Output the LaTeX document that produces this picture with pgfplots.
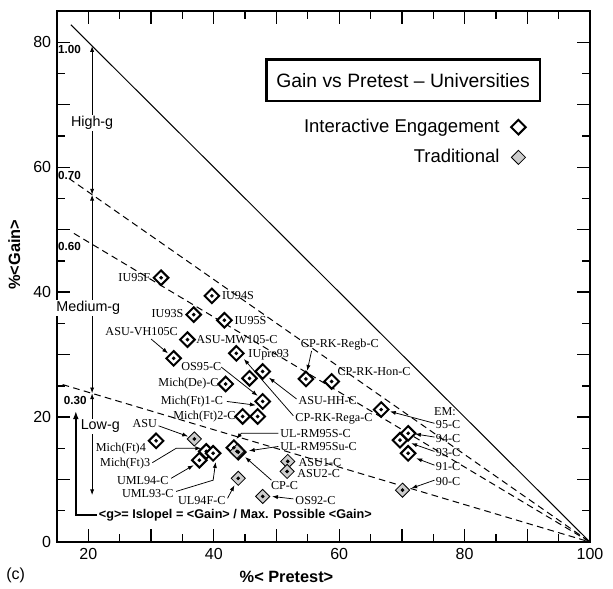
\documentclass[border=0pt]{standalone}
\usepackage{pgfplots}
\pgfplotsset{compat=1.18}
\usepackage{fontspec}
\setmainfont{Liberation Sans}
\newfontfamily\tms{Liberation Serif}
\usetikzlibrary{arrows.meta}
\begin{document}
\begin{tikzpicture}[
  lab/.style={font=\tms\fontsize{7.3}{8}\selectfont, inner sep=0.3pt},
  arr/.style={-{Latex[length=3.5pt,width=2.5pt]}, line width=0.45pt},
  gv/.style={font=\bfseries\fontsize{7}{8}\selectfont, inner sep=0.5pt},
  zone/.style={font=\fontsize{8.6}{9}\selectfont, fill=white, inner sep=0.8pt},
  ]
\begin{axis}[
  scale only axis,
  width=319.8pt, height=318.6pt,
  xmin=15, xmax=100, ymin=0, ymax=85,
  xtick={20,30,...,100}, xticklabels={20,,40,,60,,80,,100},
  ytick={0,10,...,80}, yticklabels={0,,20,,40,,60,,80},
  minor tick num=1,
  tick align=inside,
  xtick pos=both, ytick pos=both,
  major tick length=8pt, minor tick length=5pt,
  tick style={black, line width=0.8pt},
  axis line style={line width=1.2pt},
  ticklabel style={font=\fontsize{9.6}{10}\selectfont},
  clip=false,
  legend style={draw=none, fill=none, at={(axis cs:90.6,68.8)}, anchor=north east,
    font=\fontsize{11.1}{13}\selectfont, row sep=4.6pt, column sep=5pt},
  legend cell align=right,
  legend plot pos=right,
]
% legend
\addlegendimage{only marks, mark=square*, mark options={rotate=45, fill=white, draw=black, line width=1.2pt}, mark size=3.1pt}
\addlegendentry{Interactive Engagement}
\addlegendimage{only marks, mark=square*, mark options={rotate=45, fill=gray!40, draw=black, line width=0.5pt}, mark size=3.0pt}
\addlegendentry{Traditional}

% g lines
\addplot[black, line width=0.6pt, forget plot] coordinates {(17.2,82.8)(100,0)};
\addplot[black, line width=0.6pt, dash pattern=on 4pt off 2.6pt, forget plot] coordinates {(16.9,58.2)(100,0)};
\addplot[black, line width=0.6pt, dash pattern=on 4pt off 2.6pt, forget plot] coordinates {(17.7,49.4)(100,0)};
\addplot[black, line width=0.6pt, dash pattern=on 4pt off 2.6pt, forget plot] coordinates {(15.9,25.2)(100,0)};

% interactive engagement
\addplot[only marks, mark=square*, mark options={rotate=45, fill=white, draw=black, line width=1.2pt}, mark size=3.1pt, forget plot] coordinates {
(31.6,42.3)(39.7,39.4)(36.8,36.4)(41.7,35.5)(35.8,32.4)(33.6,29.4)(43.6,30.2)
(41.9,25.3)(45.7,26.2)(47.8,27.3)(54.7,26.1)(58.8,25.7)
(66.7,21.2)(71.0,17.4)(69.7,16.3)(71.0,14.2)
(47.8,22.5)(44.6,20.1)(47.0,20.1)
(30.8,16.2)(38.8,14.5)(39.9,14.2)(37.7,13.1)
(43.2,15.1)(43.9,14.4)
};
% traditional
\addplot[only marks, mark=square*, mark options={rotate=45, fill=gray!40, draw=black, line width=0.5pt}, mark size=3.0pt, forget plot] coordinates {
(36.9,16.5)(43.7,14.5)(43.9,10.2)(47.8,7.3)(51.8,12.9)(51.7,11.3)(70.1,8.3)
};
% centre dots
\addplot[only marks, mark=*, mark size=0.9pt, black, forget plot] coordinates {
(31.6,42.3)(39.7,39.4)(36.8,36.4)(41.7,35.5)(35.8,32.4)(33.6,29.4)(43.6,30.2)
(41.9,25.3)(45.7,26.2)(47.8,27.3)(54.7,26.1)(58.8,25.7)
(66.7,21.2)(71.0,17.4)(69.7,16.3)(71.0,14.2)
(47.8,22.5)(44.6,20.1)(47.0,20.1)
(30.8,16.2)(38.8,14.5)(39.9,14.2)(37.7,13.1)
(43.2,15.1)(43.9,14.4)
(36.9,16.5)(43.7,14.5)(43.9,10.2)(47.8,7.3)(51.8,12.9)(51.7,11.3)(70.1,8.3)
};

% title box
\node[draw, line width=1.3pt, minimum width=164pt, minimum height=25pt, inner sep=0pt,
  font=\fontsize{11.6}{13}\selectfont] at (axis cs:70.2,73.9) {Gain vs Pretest \textendash\ Universities};

% g values
\node[gv] at (axis cs:17.0,78.8) {1.00};
\node[gv] at (axis cs:17.0,58.7) {0.70};
\node[gv] at (axis cs:17.0,47.3) {0.60};
\node[gv] at (axis cs:17.9,22.6) {0.30};

% zones
\draw[{Latex[length=3.5pt,width=2.5pt]}-{Latex[length=3.5pt,width=2.5pt]}, line width=0.5pt] (axis cs:20.6,79.4) -- (axis cs:20.6,55.6);
\draw[{Latex[length=3.5pt,width=2.5pt]}-{Latex[length=3.5pt,width=2.5pt]}, line width=0.5pt] (axis cs:20.6,55.6) -- (axis cs:20.6,23.8);
\draw[{Latex[length=3.5pt,width=2.5pt]}-{Latex[length=3.5pt,width=2.5pt]}, line width=0.5pt] (axis cs:20.6,23.8) -- (axis cs:20.6,7.5);
\node[zone] at (axis cs:20.6,67.1) {High-g};
\node[zone] at (axis cs:20.0,37.5) {Medium-g};
\node[zone] at (axis cs:21.9,18.5) {Low-g};

% slope definition
\draw[line width=1.1pt, -{Latex[length=5pt,width=3.5pt]}] (axis cs:21.4,4.3) -- (axis cs:18.0,4.3) -- (axis cs:18.0,21.0);
\node[anchor=west, font=\bfseries\fontsize{7.6}{8}\selectfont, inner sep=0.5pt, fill=white] at (axis cs:21.5,4.3)
  {<g>= Islopel = <Gain> / Max. Possible <Gain>};

% point labels
\node[lab, anchor=east] at (axis cs:30.0,42.3) {IU95F};
\node[lab, anchor=west] at (axis cs:41.2,39.5) {IU94S};
\node[lab, anchor=east] at (axis cs:35.3,36.5) {IU93S};
\node[lab, anchor=west] at (axis cs:43.2,35.5) {IU95S};
\node[lab, anchor=east] at (axis cs:34.4,33.7) {ASU-VH105C};
\draw[arr] (axis cs:30.0,32.5) -- (axis cs:32.7,30.2);
\node[lab, anchor=west] at (axis cs:37.1,32.4) {ASU-MW105-C};
\node[lab, anchor=west] at (axis cs:45.4,30.0) {IUpre93};
\node[lab, anchor=west] at (axis cs:34.7,28.1) {OS95-C};
\draw[arr] (axis cs:41.2,28.0) -- (axis cs:47.0,23.4);
\node[lab, anchor=east] at (axis cs:40.9,25.3) {Mich(De)-C};
\node[lab, anchor=east] at (axis cs:41.6,22.5) {Mich(Ft)1-C};
\draw[arr] (axis cs:42.1,22.5) -- (axis cs:46.7,21.9);
\node[lab, anchor=east] at (axis cs:43.6,20.1) {Mich(Ft)2-C};
\node[lab] at (axis cs:29.0,18.9) {ASU};
\draw[arr] (axis cs:31.2,18.6) -- (axis cs:35.9,16.9);
\node[lab, anchor=east] at (axis cs:29.3,15.0) {Mich(Ft)4};
\node[lab, anchor=east] at (axis cs:30.0,12.6) {Mich(Ft)3};
\draw[arr] (axis cs:30.2,12.7) -- (axis cs:34.0,15.0) -- (axis cs:38.0,15.0);
\node[lab, anchor=east] at (axis cs:32.9,9.9) {UML94-C};
\draw[arr] (axis cs:33.2,10.2) -- (axis cs:36.8,12.3);
\node[lab, anchor=east] at (axis cs:33.7,7.8) {UML93-C};
\draw[arr] (axis cs:34.0,8.1) -- (axis cs:39.9,9.9) -- (axis cs:40.3,12.8);
\node[lab, anchor=east] at (axis cs:42.0,6.7) {UL94F-C};
\draw[arr] (axis cs:42.2,7.0) -- (axis cs:43.3,9.1);
\node[lab, anchor=west] at (axis cs:50.5,17.4) {UL-RM95S-C};
\draw[arr] (axis cs:50.3,17.4) -- (axis cs:44.4,17.4) -- (axis cs:43.6,16.5);
\node[lab, anchor=west] at (axis cs:50.5,15.3) {UL-RM95Su-C};
\draw[arr] (axis cs:50.3,15.3) -- (axis cs:45.6,14.6);
\node[lab, anchor=west] at (axis cs:49.0,9.0) {CP-C};
\draw[arr] (axis cs:49.2,9.9) -- (axis cs:45.0,13.6);
\node[lab, anchor=west] at (axis cs:53.4,12.8) {ASU1-C};
\node[lab, anchor=west] at (axis cs:53.2,10.9) {ASU2-C};
\node[lab, anchor=west] at (axis cs:52.9,6.7) {OS92-C};
\draw[arr] (axis cs:52.7,6.9) -- (axis cs:49.3,7.3);
\node[lab] at (axis cs:60.1,31.6) {CP-RK-Regb-C};
\draw[arr] (axis cs:55.6,30.6) -- (axis cs:54.9,27.4);
\node[lab, anchor=west] at (axis cs:59.6,27.3) {CP-RK-Hon-C};
\node[lab, anchor=west] at (axis cs:53.4,22.6) {ASU-HH-C};
\draw[arr] (axis cs:53.2,22.9) -- (axis cs:48.8,26.3);
\node[lab, anchor=west] at (axis cs:52.9,19.7) {CP-RK-Rega-C};
\draw[arr] (axis cs:52.7,20.2) -- (axis cs:44.8,29.3);
\node[lab, anchor=west] at (axis cs:75.0,20.9) {EM:};
\node[lab, anchor=west] at (axis cs:75.3,18.75) {95-C};
\draw[arr] (axis cs:75.2,19.0) -- (axis cs:68.1,20.9);
\node[lab, anchor=west] at (axis cs:75.3,16.6) {94-C};
\draw[arr] (axis cs:75.2,16.8) -- (axis cs:72.1,17.3);
\node[lab, anchor=west] at (axis cs:75.3,14.3) {93-C};
\draw[arr] (axis cs:75.2,14.5) -- (axis cs:71.5,15.8);
\node[lab, anchor=west] at (axis cs:75.3,12.1) {91-C};
\draw[arr] (axis cs:75.2,12.3) -- (axis cs:72.3,13.4);
\node[lab, anchor=west] at (axis cs:75.3,9.7) {90-C};
\draw[arr] (axis cs:75.2,9.9) -- (axis cs:71.5,8.6);

% axis titles
\node[font=\bfseries\fontsize{9.8}{10}\selectfont] at (axis cs:51.6,-5.6) {\%< Pretest>};
\node[font=\bfseries\fontsize{9.8}{10}\selectfont, rotate=90] at (axis cs:8.2,46) {\%<Gain>};
\node[font=\fontsize{9.6}{10}\selectfont] at (axis cs:8.4,-5.3) {(c)};
\end{axis}
\pgfresetboundingbox
\path ([shift={(-34.2pt,-27.6pt)}]current axis.south west) rectangle ([shift={(13.8pt,6.6pt)}]current axis.north east);
\end{tikzpicture}
\end{document}
